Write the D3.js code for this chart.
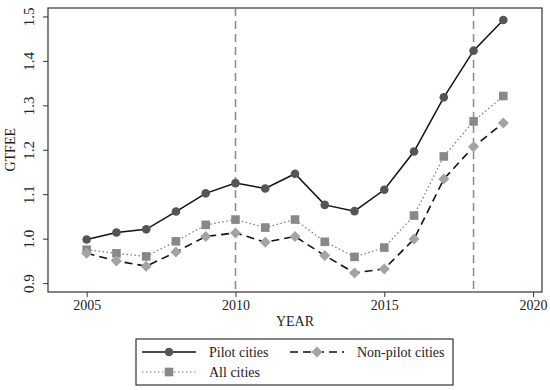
<!DOCTYPE html>
<html><head><meta charset="utf-8">
<script src="https://cdn.jsdelivr.net/npm/d3@7"></script>
<style>body{margin:0;background:#fff}svg{display:block}text{font-family:"Liberation Serif","Times New Roman",serif;fill:#222}</style>
</head><body><svg id="c" width="550" height="390"></svg>
<script>
const years = [2005,2006,2007,2008,2009,2010,2011,2012,2013,2014,2015,2016,2017,2018,2019];
const pilot = [0.998,1.014,1.021,1.061,1.102,1.125,1.113,1.146,1.076,1.062,1.110,1.196,1.318,1.423,1.492];
const allCities = [0.975,0.967,0.960,0.994,1.031,1.043,1.025,1.043,0.993,0.959,0.980,1.052,1.185,1.264,1.321];
const nonPilot = [0.967,0.950,0.938,0.970,1.005,1.013,0.992,1.005,0.962,0.923,0.932,0.999,1.134,1.207,1.260];
const xTicks = [2005,2010,2015,2020];
const yTicks = [0.9,1.0,1.1,1.2,1.3,1.4,1.5];
const refYears = [2010,2018];

const svg = d3.select("#c");
const L=48,R=542,T=8,B=292;
const x = d3.scaleLinear().domain([2003.7,2020.3]).range([L,R]);
const y = d3.scaleLinear().domain([0.880,1.519]).range([B,T]);
// frame
svg.append("rect").attr("x",L).attr("y",T).attr("width",R-L).attr("height",B-T).attr("fill","none").attr("stroke","#333").attr("stroke-width",1.2);
// axes
const ya = svg.append("g").attr("transform",`translate(${L},0)`).call(d3.axisLeft(y).tickValues(yTicks).tickFormat(d3.format(".1f")).tickSize(5).tickSizeOuter(0));
ya.select(".domain").remove();
ya.selectAll("line").attr("stroke","#333");
ya.selectAll("text").attr("font-size",15).attr("transform","rotate(-90)").attr("x",0).attr("y",-14).attr("dy","0").attr("text-anchor","middle").style("font-family","Liberation Serif");
const xa = svg.append("g").attr("transform",`translate(0,${B})`).call(d3.axisBottom(x).tickValues(xTicks).tickFormat(d3.format("d")).tickSize(5).tickSizeOuter(0));
xa.select(".domain").remove();
xa.selectAll("line").attr("stroke","#333");
xa.selectAll("text").attr("font-size",14).attr("y",8).style("font-family","Liberation Serif");
svg.append("text").attr("x",(L+R)/2).attr("y",326).attr("text-anchor","middle").attr("font-size",14).text("YEAR");
svg.append("text").attr("transform",`translate(15,${y(1.2)}) rotate(-90)`).attr("text-anchor","middle").attr("font-size",14).text("GTFEE");
// reference lines
refYears.forEach(r=>svg.append("line").attr("x1",x(r)).attr("x2",x(r)).attr("y1",T).attr("y2",B).attr("stroke","#888").attr("stroke-width",1.5).attr("stroke-dasharray","8,5"));

const series = [
 {name:"Pilot cities",vals:pilot,dash:null,lc:"#111",lw:1.5,shape:"circle",mc:"#555"},
 {name:"All cities",vals:allCities,dash:"1.5,2.5",lc:"#777",lw:1.2,shape:"square",mc:"#888"},
 {name:"Non-pilot cities",vals:nonPilot,dash:"8,5",lc:"#111",lw:1.6,shape:"diamond",mc:"#a3a3a3"}
];
function marker(g,shape,cx,cy,col){
  if(shape==="circle") g.append("circle").attr("cx",cx).attr("cy",cy).attr("r",4.3).attr("fill",col);
  else if(shape==="square") g.append("rect").attr("x",cx-4.3).attr("y",cy-4.3).attr("width",8.6).attr("height",8.6).attr("fill",col);
  else g.append("path").attr("d",`M${cx},${cy-5.5}L${cx+5.5},${cy}L${cx},${cy+5.5}L${cx-5.5},${cy}Z`).attr("fill",col);
}
const line = d3.line().x((d,i)=>x(years[i])).y(d=>y(d));
series.forEach(s=>{
  const p=svg.append("path").attr("d",line(s.vals)).attr("fill","none").attr("stroke",s.lc).attr("stroke-width",s.lw);
  if(s.dash) p.attr("stroke-dasharray",s.dash);
});
series.forEach(s=>{
  const g=svg.append("g");
  s.vals.forEach((v,i)=>marker(g,s.shape,x(years[i]),y(v),s.mc));
});
// legend
svg.append("rect").attr("x",136).attr("y",339).attr("width",317).attr("height",46).attr("fill","none").attr("stroke","#333").attr("stroke-width",1.2);
const legPos=[{x:142,y:352},{x:142,y:372},{x:290,y:352}];
series.forEach((s,i)=>{
  const p=legPos[i], g=svg.append("g");
  const l=g.append("line").attr("x1",p.x).attr("x2",p.x+54).attr("y1",p.y).attr("y2",p.y).attr("stroke",s.lc).attr("stroke-width",s.lw);
  if(s.dash) l.attr("stroke-dasharray",s.dash);
  marker(g,s.shape,p.x+27,p.y,s.mc);
  g.append("text").attr("x",p.x+67).attr("y",p.y+5).attr("font-size",14).text(s.name);
});
</script></body></html>
